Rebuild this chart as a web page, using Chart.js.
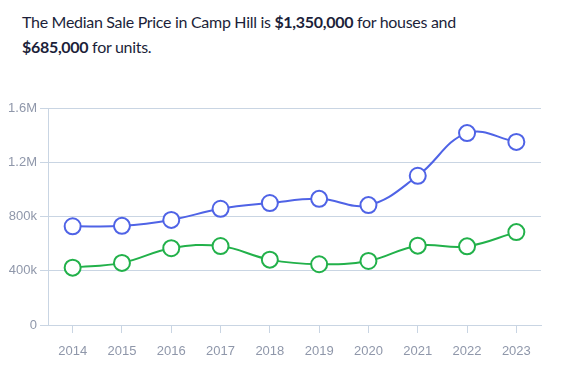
<!DOCTYPE html>
<html>
<head>
<meta charset="utf-8">
<script src="https://cdn.jsdelivr.net/npm/chart.js@4.4.0/dist/chart.umd.min.js"></script>
<style>
  html, body { margin: 0; padding: 0; background: #fff; }
  body { width: 566px; height: 368px; position: relative; overflow: hidden; }
  .title {
    position: absolute; left: 22px; top: 9px; width: 530px;
    font-family: Lato, sans-serif; font-size: 16px; line-height: 25px;
    letter-spacing: -0.3px; color: #1c1f3a;
  }
  .title b { font-weight: 700; }
  .chart-wrap { position: absolute; left: 0; top: 90px; width: 566px; height: 278px; }
</style>
</head>
<body>
<div class="title">The Median Sale Price in Camp Hill is <b>$1,350,000</b> for houses and<br><b>$685,000</b> for units.</div>
<div class="chart-wrap"><canvas id="myChart"></canvas></div>
<script>
const years = ['2014', '2015', '2016', '2017', '2018', '2019', '2020', '2021', '2022', '2023'];
const houses = [728000, 731000, 775000, 857000, 899000, 930000, 884000, 1100000, 1415000, 1350000];
const units = [423000, 458000, 566000, 582000, 482000, 448000, 472000, 585000, 580000, 685000];
const yTicks = [0, 400000, 800000, 1200000, 1600000];

const gridColor = '#c9d5e3';
const tickColor = '#8f97aa';

function fmt(v) {
  if (v === 0) return '0';
  if (v >= 1000000) return (v / 1000000).toFixed(1) + 'M';
  return (v / 1000) + 'k';
}

const ctx = document.getElementById('myChart').getContext('2d');
new Chart(ctx, {
  type: 'line',
  data: {
    labels: years,
    datasets: [{
      label: 'Houses',
      data: houses,
      borderColor: '#4f63e6',
      backgroundColor: '#ffffff',
      pointBackgroundColor: '#ffffff',
      pointBorderColor: '#4f63e6',
      borderWidth: 2,
      pointBorderWidth: 2,
      pointRadius: 8,
      tension: 0.4
    }, {
      label: 'Units',
      data: units,
      borderColor: '#22b14a',
      backgroundColor: '#ffffff',
      pointBackgroundColor: '#ffffff',
      pointBorderColor: '#22b14a',
      borderWidth: 2,
      pointBorderWidth: 2,
      pointRadius: 8,
      tension: 0.4
    }]
  },
  options: {
    responsive: true,
    maintainAspectRatio: false,
    animation: false,
    layout: { padding: { left: 0, right: 25, top: 18, bottom: 0 } },
    plugins: { legend: { display: false }, tooltip: { enabled: false } },
    scales: {
      x: {
        offset: true,
        grid: { display: true, drawOnChartArea: false, drawTicks: true, tickLength: 8, color: gridColor },
        border: { display: true, color: gridColor },
        ticks: { color: tickColor, font: { family: 'Arial, "Liberation Sans", sans-serif', size: 13 }, padding: 11 },
        afterFit: s => { s.height = 43; }
      },
      y: {
        min: 0,
        max: 1600000,
        afterBuildTicks: s => { s.ticks = yTicks.map(v => ({ value: v })); },
        grid: { color: gridColor, tickLength: 8 },
        border: { display: true, color: gridColor },
        ticks: { color: tickColor, font: { family: 'Arial, "Liberation Sans", sans-serif', size: 13 }, padding: 3, callback: v => fmt(v) },
        afterFit: s => { s.width = 48; }
      }
    }
  }
});
</script>
</body>
</html>
